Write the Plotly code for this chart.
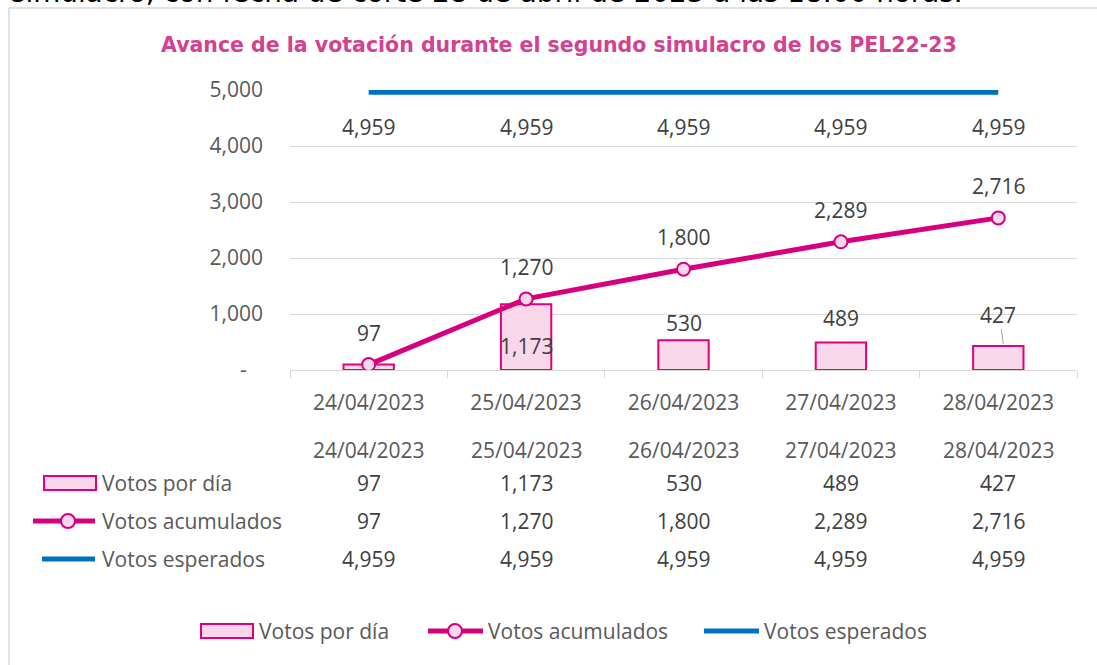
import plotly.graph_objects as go

# ---------------- data ----------------
fechas = ["24/04/2023", "25/04/2023", "26/04/2023", "27/04/2023", "28/04/2023"]
votos_dia = [97, 1173, 530, 489, 427]
votos_acum = [97, 1270, 1800, 2289, 2716]
votos_esp = [4959, 4959, 4959, 4959, 4959]
y_tickvals = [0, 1000, 2000, 3000, 4000, 5000]
y_ticktext = ["-\u00a0\u00a0\u00a0", "1,000", "2,000", "3,000", "4,000", "5,000"]
series = ["Votos por día", "Votos acumulados", "Votos esperados"]
titulo = "Avance de la votación durante el segundo simulacro de los PEL22-23"
texto_superior = "simulacro, con fecha de corte 28 de abril de 2023 a las 18:00 horas."

# ---------------- style ----------------
W, H = 1097, 665
L, R, T, B = 290, 1077, 90, 370
PINK_FILL = "#F9D7EA"
PINK_LINE = "#E2007A"
MAGENTA = "#D6007F"
BLUE = "#0070C0"
GRID = "#D9D9D9"
TXT = "#404040"
AX = "#595959"
FONT = "Open Sans"
FS = 21
# pixel offsets of the daily-vote labels (None: label hidden under the cumulative one)
dia_label_shift = [None, -42, 17, 25, 31]


def px(x):
    return (x - L) / (R - L)


def py(y):
    return (B - y) / (B - T)


def fmt(v):
    return f"{v:,}"


fig = go.Figure()
fig.add_trace(go.Bar(x=fechas, y=votos_dia, name=series[0], width=0.32,
                     marker=dict(color=PINK_FILL, line=dict(color=PINK_LINE, width=2)),
                     showlegend=False))
fig.add_trace(go.Scatter(x=fechas, y=votos_acum, name=series[1], mode="lines+markers",
                         line=dict(color=MAGENTA, width=5),
                         marker=dict(symbol="circle", size=13, color=PINK_FILL,
                                     line=dict(color=MAGENTA, width=2)),
                         showlegend=False))
fig.add_trace(go.Scatter(x=fechas, y=votos_esp, name=series[2], mode="lines",
                         line=dict(color=BLUE, width=5), showlegend=False))

ann = []
shapes = []


def label(x, y, text, xref="x", yref="y", yshift=0, xanchor="center", color=TXT, size=FS,
          family=FONT):
    return dict(x=x, y=y, xref=xref, yref=yref, text=text, showarrow=False, yshift=yshift,
                xanchor=xanchor, yanchor="middle",
                font=dict(family=family, size=size, color=color))


# data labels
for f, v in zip(fechas, votos_esp):
    ann.append(label(f, v, fmt(v), yshift=-35))
for f, v in zip(fechas, votos_acum):
    ann.append(label(f, v, fmt(v), yshift=32))
for f, v, s in zip(fechas, votos_dia, dia_label_shift):
    if s is not None:
        ann.append(label(f, v, fmt(v), yshift=s))
# leader line for last bar label
shapes.append(dict(type="line", xref="x", yref="y", xsizemode="pixel", ysizemode="pixel",
                   xanchor=4, yanchor=votos_dia[4], x0=5, x1=3, y0=2, y1=17,
                   line=dict(color="#A6A6A6", width=1)))

# data table
rows_y = [450, 483, 521, 559]
for f in fechas:
    ann.append(label(f, py(rows_y[0]), f, yref="paper", color=AX))
for vals, ry in zip([votos_dia, votos_acum, votos_esp], rows_y[1:]):
    for f, v in zip(fechas, vals):
        ann.append(label(f, py(ry), fmt(v), yref="paper"))
for name, ry in zip(series, rows_y[1:]):
    ann.append(label(px(100), py(ry), name, xref="paper", yref="paper", xanchor="left",
                     color=AX))


def keys(xb0, xb1, yb, xl0, xl1, xc, yl, xe0, xe1, ye):
    out = []
    out.append(dict(type="rect", xref="paper", yref="paper", x0=px(xb0), x1=px(xb1),
                    y0=py(yb - 7), y1=py(yb + 7), fillcolor=PINK_FILL,
                    line=dict(color=PINK_LINE, width=2)))
    out.append(dict(type="line", xref="paper", yref="paper", x0=px(xl0), x1=px(xl1),
                    y0=py(yl), y1=py(yl), line=dict(color=MAGENTA, width=5)))
    out.append(dict(type="circle", xref="paper", yref="paper", x0=px(xc - 7), x1=px(xc + 7),
                    y0=py(yl - 7), y1=py(yl + 7), fillcolor=PINK_FILL,
                    line=dict(color=MAGENTA, width=2)))
    out.append(dict(type="line", xref="paper", yref="paper", x0=px(xe0), x1=px(xe1),
                    y0=py(ye), y1=py(ye), line=dict(color=BLUE, width=5)))
    return out


shapes += keys(44, 96, rows_y[1], 33, 95, 68, rows_y[2], 42, 95, rows_y[3])

# bottom legend
LY = 631
shapes += keys(201, 253, LY, 428, 483, 455, LY, 704, 759, LY)
for name, lx in zip(series, [257, 486, 762]):
    ann.append(label(px(lx), py(LY), name, xref="paper", yref="paper", xanchor="left",
                     color=AX))

# title & clipped top text
ann.append(label(px(559), py(45), f"<b>{titulo}</b>", xref="paper", yref="paper",
                 color="#D4418E", size=20.5, family="DejaVu Sans"))
ann.append(label(px(9), py(-7), texto_superior, xref="paper", yref="paper", xanchor="left",
                 color="#000000", size=27.8, family="DejaVu Sans"))

# chart frame
shapes.append(dict(type="rect", xref="paper", yref="paper", x0=px(9), x1=px(1110),
                   y0=py(8), y1=py(700), line=dict(color=GRID, width=1.5), layer="below"))

fig.update_layout(
    width=W, height=H, autosize=False,
    margin=dict(l=L, r=W - R, t=T, b=H - B, pad=0),
    paper_bgcolor="white", plot_bgcolor="white",
    annotations=ann, shapes=shapes, showlegend=False,
    xaxis=dict(type="category", showline=True, linecolor=GRID, linewidth=1,
               ticks="outside", tickson="boundaries", ticklen=7, tickcolor=GRID,
               showgrid=False, tickfont=dict(family=FONT, size=FS, color=AX),
               ticklabelstandoff=14),
    yaxis=dict(range=[0, 5000], tickvals=y_tickvals, ticktext=y_ticktext,
               showgrid=True, gridcolor=GRID, gridwidth=1, zeroline=False,
               showline=False, ticks="", tickfont=dict(family=FONT, size=FS, color=AX),
               ticklabelstandoff=26),
)

fig.write_html("out.html", config={"displayModeBar": False},
               post_script="document.body.style.margin='0';")
